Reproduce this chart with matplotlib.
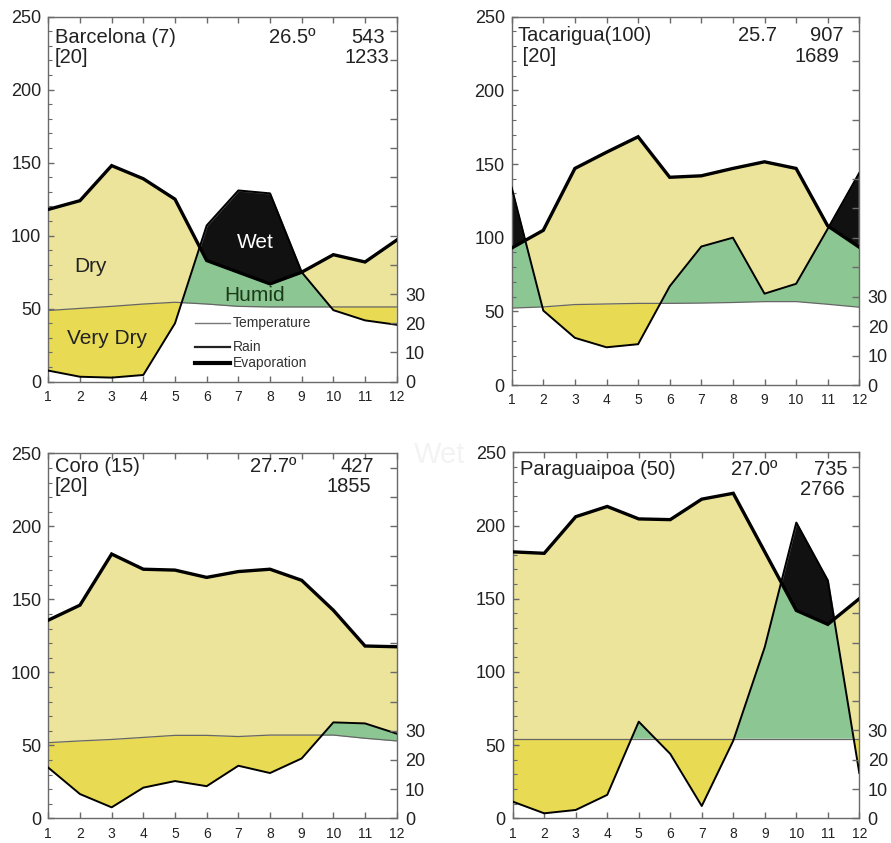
import numpy as np
import matplotlib
matplotlib.use("Agg")
import matplotlib.pyplot as plt
from matplotlib.lines import Line2D

plt.rcParams['font.family'] = ['Liberation Sans', 'DejaVu Sans']

months = list(range(1, 13))
month_labels = [str(m) for m in months]

# ---- data (mm for rain / evaporation, degC for temperature) ----
barcelona_rain = [7.6, 3.4, 2.8, 4.6, 40, 107, 131, 129, 75, 49, 42, 39]
barcelona_evap = [118, 124, 148, 139, 125, 83, 75, 67, 75, 87, 82, 97]
barcelona_temp = [24.4, 25.1, 25.8, 26.6, 27.2, 26.6, 25.8, 25.6, 25.6, 25.6, 25.6, 25.6]

tacarigua_rain = [134, 50.5, 32, 25.6, 27.7, 67, 94, 100, 62, 68.7, 106, 144]
tacarigua_evap = [93, 105, 147, 158, 168.5, 141, 142, 147, 151.5, 147, 108, 93.5]
tacarigua_temp = [26.1, 26.5, 27.3, 27.5, 27.7, 27.7, 27.8, 28.0, 28.3, 28.3, 27.4, 26.4]

coro_rain = [34.7, 16.6, 7.5, 21, 25.5, 22, 36, 31, 41, 65.7, 65, 58]
coro_evap = [135.7, 146, 181, 170.6, 170, 165, 169, 170.6, 163, 142.5, 118, 117.5]
coro_temp = [25.9, 26.5, 27.0, 27.7, 28.4, 28.4, 28.0, 28.5, 28.5, 28.5, 27.4, 26.5]

paragua_rain = [11.4, 3.4, 5.7, 16, 66, 44, 8.4, 53, 117, 202, 162.5, 31]
paragua_evap = [182, 181, 206, 213, 204.5, 204, 218, 222, 182, 142, 132.5, 150]
paragua_temp = [27.2] * 12

stations = [
    dict(name="Barcelona (7)", years="[20]", tmean="26.5º", rain_total="543", evap_total="1233",
         rain=barcelona_rain, evap=barcelona_evap, temp=barcelona_temp),
    dict(name="Tacarigua(100)", years=" [20]", tmean="25.7", rain_total="907", evap_total="1689",
         rain=tacarigua_rain, evap=tacarigua_evap, temp=tacarigua_temp),
    dict(name="Coro (15)", years="[20]", tmean="27.7º", rain_total="427", evap_total="1855",
         rain=coro_rain, evap=coro_evap, temp=coro_temp),
    dict(name="Paraguaipoa (50)", years="", tmean="27.0º", rain_total="735", evap_total="2766",
         rain=paragua_rain, evap=paragua_evap, temp=paragua_temp),
]

left_ticks = [0, 50, 100, 150, 200, 250]
right_ticks = list(range(0, 130, 10))
right_labels = ['0', '10', '20', '30'] + [''] * 9

# ---- style ----
C_DRY = '#ece49b'
C_VDRY = '#e8da52'
C_HUMID = '#8cc692'
C_WET = '#111111'
C_SPINE = '#6a6a6a'
C_TEXT = '#222222'

W, H = 891, 843
fig = plt.figure(figsize=(W / 100, H / 100), dpi=100)

# axes boxes in pixels: left, top, right, bottom
boxes = [
    (48.3, 16.7, 396.7, 381.7),
    (511.7, 16.7, 859.3, 385.0),
    (48.3, 453.3, 396.7, 818.3),
    (512.7, 452.3, 859.3, 818.3),
]
# text positions (axes fraction)
txt_pos = [
    dict(nx=0.019, ny=0.944, yy=0.889, tx=0.766, rx=0.966, ex=0.980, ry=0.944, ey=0.889),
    dict(nx=0.016, ny=0.950, yy=0.891, tx=0.764, rx=0.954, ex=0.944, ry=0.950, ey=0.891),
    dict(nx=0.019, ny=0.965, yy=0.908, tx=0.711, rx=0.935, ex=0.928, ry=0.965, ey=0.908),
    dict(nx=0.021, ny=0.952, yy=0.899, tx=0.763, rx=0.965, ex=0.959, ry=0.952, ey=0.899),
]

xs = np.linspace(1, 12, 2201)

for st, box, tp in zip(stations, boxes, txt_pos):
    l, t, r, b = box
    ax = fig.add_axes([l / W, 1 - b / H, (r - l) / W, (b - t) / H])
    rain = np.interp(xs, months, st['rain'])
    evap = np.interp(xs, months, st['evap'])
    temp = np.interp(xs, months, np.array(st['temp']) * 2.0)

    lo = np.maximum(rain, temp)
    ax.fill_between(xs, lo, evap, where=evap > lo, color=C_DRY, lw=0, zorder=1)
    ax.fill_between(xs, rain, temp, where=rain < temp, color=C_VDRY, lw=0, zorder=1)
    hi = np.minimum(rain, evap)
    ax.fill_between(xs, temp, hi, where=hi > temp, color=C_HUMID, lw=0, zorder=1)
    ax.fill_between(xs, evap, rain, where=rain > evap, facecolor=C_WET,
                    edgecolor='#666666', lw=1.0, zorder=2)

    ax.plot(months, np.array(st['temp']) * 2.0, color='#666666', lw=0.9, zorder=3)
    ax.plot(months, st['rain'], color='black', lw=1.4, zorder=4)
    ax.plot(months, st['evap'], color='black', lw=2.4, zorder=5, solid_joinstyle='miter')

    ax.set_xlim(1, 12)
    ax.set_ylim(0, 250)
    ax.set_xticks(months)
    ax.set_xticklabels(month_labels, fontsize=10, color=C_TEXT)
    ax.set_yticks(left_ticks)
    ax.set_yticklabels([str(v) for v in left_ticks], fontsize=13, color=C_TEXT)
    ax.set_yticks(range(0, 251, 10), minor=True)
    ax.tick_params(axis='x', direction='in', top=True, length=4, width=1,
                   color=C_SPINE, pad=6)
    ax.tick_params(axis='y', which='major', direction='in', length=4, width=1,
                   color=C_SPINE, pad=5)
    ax.tick_params(axis='y', which='minor', direction='in', length=3, width=0.8,
                   color=C_SPINE)
    for s in ax.spines.values():
        s.set_color(C_SPINE)
        s.set_linewidth(1.0)

    ax2 = ax.twinx()
    ax2.set_ylim(0, 125)
    ax2.set_yticks(right_ticks)
    ax2.set_yticklabels(right_labels, fontsize=13, color=C_TEXT)
    ax2.tick_params(axis='y', direction='in', length=5, width=1, color=C_SPINE, pad=6)
    for s in ax2.spines.values():
        s.set_visible(False)

    fs = 14.5
    ax.text(tp['nx'], tp['ny'], st['name'], transform=ax.transAxes, fontsize=fs,
            ha='left', va='center', color=C_TEXT, zorder=6)
    if st['years']:
        ax.text(tp['nx'], tp['yy'], st['years'], transform=ax.transAxes, fontsize=fs,
                ha='left', va='center', color=C_TEXT, zorder=6)
    ax.text(tp['tx'], tp['ny'], st['tmean'], transform=ax.transAxes, fontsize=fs,
            ha='right', va='center', color=C_TEXT, zorder=6)
    ax.text(tp['rx'], tp['ry'], st['rain_total'], transform=ax.transAxes, fontsize=fs,
            ha='right', va='center', color=C_TEXT, zorder=6)
    ax.text(tp['ex'], tp['ey'], st['evap_total'], transform=ax.transAxes, fontsize=fs,
            ha='right', va='center', color=C_TEXT, zorder=6)

    if st['name'].startswith('Barcelona'):
        kw = dict(transform=ax.transAxes, fontsize=15, ha='center', va='center', zorder=6)
        ax.text(0.12, 0.315, 'Dry', color='#222222', **kw)
        ax.text(0.168, 0.119, 'Very Dry', color='#222222', **kw)
        ax.text(0.593, 0.381, 'Wet', color='white', **kw)
        ax.text(0.593, 0.236, 'Humid', color='#1a3a1a', **kw)
        # legend
        items = [('Temperature', '#777777', 1.0, 0.161),
                 ('Rain', '#222222', 1.6, 0.096),
                 ('Evaporation', 'black', 3.0, 0.051)]
        for lab, col, lw, yy in items:
            ax.add_line(Line2D([0.42, 0.522], [yy, yy], transform=ax.transAxes,
                               color=col, lw=lw, zorder=6))
            ax.text(0.53, yy, lab, transform=ax.transAxes, fontsize=10,
                    ha='left', va='center', color='#333333', zorder=6)

fig.text(440 / W, 1 - 455 / H, 'Wet', fontsize=21, color='#f3f3f3',
         ha='center', va='center')

fig.savefig('out.png', dpi=100)
